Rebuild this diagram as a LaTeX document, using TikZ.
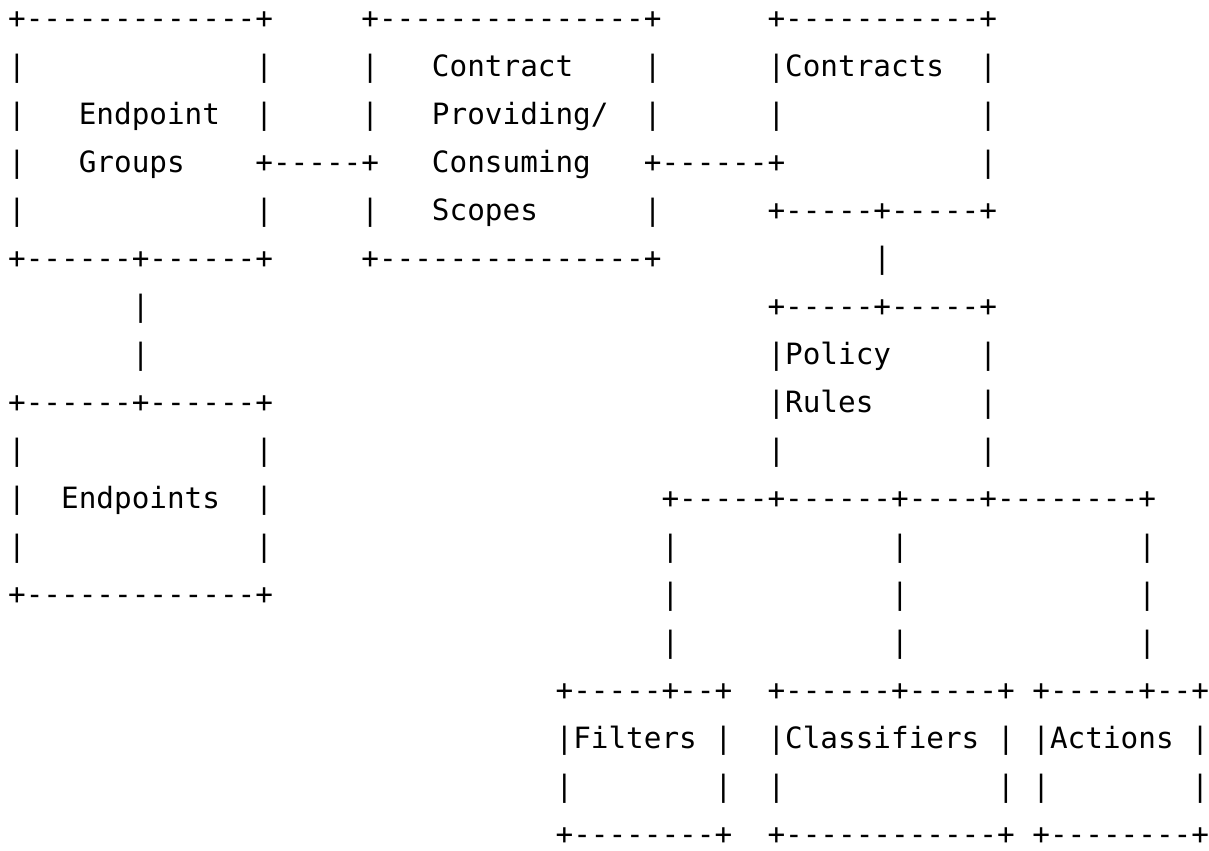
\documentclass[tikz,border=0pt]{standalone}
\usepackage{fontspec}
\newfontfamily\asciifont{DejaVu Sans Mono}[Ligatures=TeXOff]
\usepackage{tikz}

\tikzset{
  ascii/.style={anchor=base west, inner sep=0pt, outer sep=0pt, text depth=0pt,
    font=\asciifont\fontsize{29.33}{35}\selectfont},
}

\begin{document}
\begin{tikzpicture}[x=17.66pt, y=-48pt]

  % page frame (one unit = one character cell / one text line)
  \useasboundingbox (-0.4626,-0.6) rectangle (68.0,17.129);

  % Endpoint Groups box
  \node[ascii] (grp0) at (0,0) {+-------------+};
  \node[ascii] (grp1) at (0,1) {|~~~~~~~~~~~~~|};
  \node[ascii] (grp2) at (0,2) {|~~~Endpoint~~|};
  \node[ascii] (grp3) at (0,3) {|~~~Groups~~~~+};
  \node[ascii] (grp4) at (0,4) {|~~~~~~~~~~~~~|};
  \node[ascii] (grp5) at (0,5) {+------+------+};

  % groups -- scopes
  \node[ascii] (lnkgs) at (15,3) {-----};

  % Contract Providing/Consuming Scopes box
  \node[ascii] (scp0) at (20,0) {+---------------+};
  \node[ascii] (scp1) at (20,1) {|~~~Contract~~~~|};
  \node[ascii] (scp2) at (20,2) {|~~~Providing/~~|};
  \node[ascii] (scp3) at (20,3) {+~~~Consuming~~~+};
  \node[ascii] (scp4) at (20,4) {|~~~Scopes~~~~~~|};
  \node[ascii] (scp5) at (20,5) {+---------------+};

  % scopes -- contracts
  \node[ascii] (lnksc) at (37,3) {------};

  % Contracts box
  \node[ascii] (con0) at (43,0) {+-----------+};
  \node[ascii] (con1) at (43,1) {|Contracts~~|};
  \node[ascii] (con2) at (43,2) {|~~~~~~~~~~~|};
  \node[ascii] (con3) at (43,3) {+~~~~~~~~~~~|};
  \node[ascii] (con4) at (43,4) {+-----+-----+};

  % contracts -- policy rules
  \node[ascii] (lnkcp) at (49,5) {|};

  % Policy Rules box
  \node[ascii] (pol6) at (43,6) {+-----+-----+};
  \node[ascii] (pol7) at (43,7) {|Policy~~~~~|};
  \node[ascii] (pol8) at (43,8) {|Rules~~~~~~|};
  \node[ascii] (pol9) at (43,9) {|~~~~~~~~~~~|};
  \node[ascii] (pol10) at (37,10) {+-----+------+----+--------+};

  % groups -- endpoints
  \node[ascii] (lnkge6) at (7,6) {|};
  \node[ascii] (lnkge7) at (7,7) {|};

  % Endpoints box
  \node[ascii] (ep8) at (0,8) {+------+------+};
  \node[ascii] (ep9) at (0,9) {|~~~~~~~~~~~~~|};
  \node[ascii] (ep10) at (0,10) {|~~Endpoints~~|};
  \node[ascii] (ep11) at (0,11) {|~~~~~~~~~~~~~|};
  \node[ascii] (ep12) at (0,12) {+-------------+};

  % rules -- filters / classifiers / actions
  \foreach \c in {37,50,64}
    \foreach \r in {11,12,13}
      \node[ascii] (br-\c-\r) at (\c,\r) {|};

  % Filters box
  \node[ascii] (fil14) at (31,14) {+-----+--+};
  \node[ascii] (fil15) at (31,15) {|Filters~|};
  \node[ascii] (fil16) at (31,16) {|~~~~~~~~|};
  \node[ascii] (fil17) at (31,17) {+--------+};

  % Classifiers box
  \node[ascii] (cls14) at (43,14) {+------+-----+};
  \node[ascii] (cls15) at (43,15) {|Classifiers~|};
  \node[ascii] (cls16) at (43,16) {|~~~~~~~~~~~~|};
  \node[ascii] (cls17) at (43,17) {+------------+};

  % Actions box
  \node[ascii] (act14) at (58,14) {+-----+--+};
  \node[ascii] (act15) at (58,15) {|Actions~|};
  \node[ascii] (act16) at (58,16) {|~~~~~~~~|};
  \node[ascii] (act17) at (58,17) {+--------+};

\end{tikzpicture}
\end{document}
